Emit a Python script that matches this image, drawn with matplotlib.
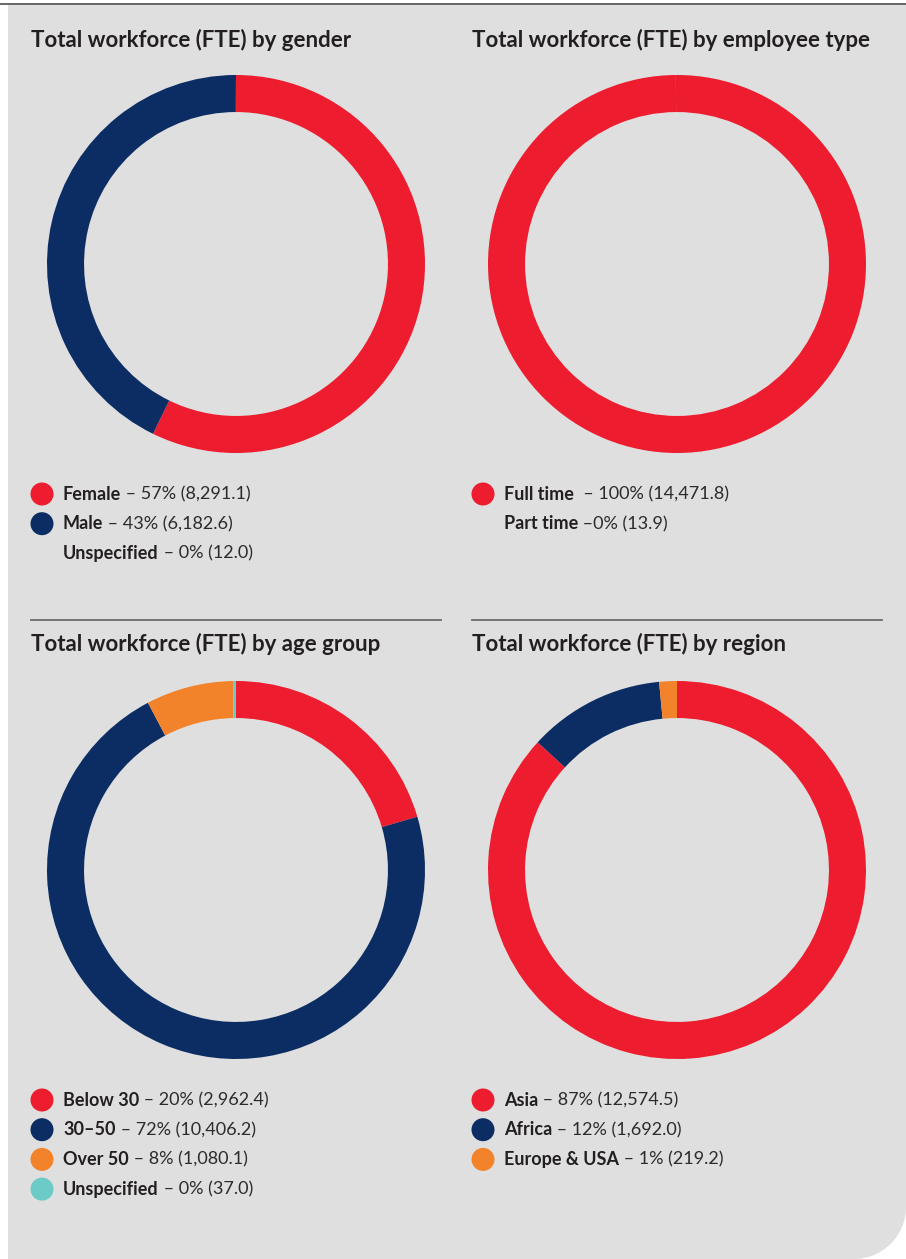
import matplotlib
matplotlib.use('Agg')
import matplotlib.pyplot as plt
from matplotlib.patches import Rectangle, Circle

plt.rcParams['font.family'] = ['Lato', 'DejaVu Sans']

W, H = 906, 1259
bg = '#dfdfdf'
red = '#ed1c2e'
navy = '#0c2d63'
orange = '#f3832a'
teal = '#6ccbc7'
ink = '#231f20'

# data
gender_labels = ['Female', 'Male', 'Unspecified']
gender_values = [8291.1, 6182.6, 12.0]
gender_pct = ['57%', '43%', '0%']
gender_colors = [red, navy, navy]

type_labels = ['Full time', 'Part time']
type_values = [14471.8, 13.9]
type_pct = ['100%', '0%']
type_colors = [red, red]

age_labels = ['Below 30', '30–50', 'Over 50', 'Unspecified']
age_values = [2962.4, 10406.2, 1080.1, 37.0]
age_pct = ['20%', '72%', '8%', '0%']
age_colors = [red, navy, orange, teal]

region_labels = ['Asia', 'Africa', 'Europe & USA']
region_values = [12574.5, 1692.0, 219.2]
region_pct = ['87%', '12%', '1%']
region_colors = [red, navy, orange]

fig = plt.figure(figsize=(W / 100, H / 100), dpi=100)
bgax = fig.add_axes([0, 0, 1, 1])
bgax.set_xlim(0, W)
bgax.set_ylim(H, 0)
bgax.axis('off')

# panel with rounded bottom-right corner
r = 52
bgax.add_patch(Rectangle((8, 5), W - 8, H - 5, color=bg, lw=0))
bgax.add_patch(Rectangle((W - r, H - r), r, r, color='white', lw=0))
bgax.add_patch(Circle((W - r, H - r), r, color=bg, lw=0))
bgax.plot([0, W], [4, 4], color='#4d4d4d', lw=1.2)

# separators
bgax.plot([31, 441], [620, 620], color='#6b6b6b', lw=1.3)
bgax.plot([472, 882], [620, 620], color='#6b6b6b', lw=1.3)


def donut(cx, cy, values, colors, rad=189):
    ax = fig.add_axes([(cx - rad) / W, 1 - (cy + rad) / H, 2 * rad / W, 2 * rad / H])
    ax.pie(values, colors=colors, startangle=90, counterclock=False,
           radius=1, wedgeprops=dict(width=0.196, linewidth=0))
    ax.set_xlim(-1, 1)
    ax.set_ylim(-1, 1)
    ax.axis('off')


def legend(x, y, labels, pct, values, colors, dots, gap=' – '):
    for i, lab in enumerate(labels):
        yy = y + i * 29.7
        if dots[i]:
            bgax.add_patch(Circle((x, yy), 11.5, color=colors[i], lw=0))
        t = bgax.text(x + 21, yy, lab, fontsize=13, fontweight='bold', color=ink,
                      va='center', ha='left')
        g = gap[i] if isinstance(gap, list) else gap
        bgax.annotate(g + pct[i] + ' (' + format(values[i], ',.1f') + ')',
                      xy=(1, 0), xycoords=t, fontsize=13, color='#2b2b2b',
                      va='bottom', ha='left')


titles = ['Total workforce (FTE) by gender', 'Total workforce (FTE) by employee type',
          'Total workforce (FTE) by age group', 'Total workforce (FTE) by region']
tpos = [(31, 40), (472, 40), (31, 644), (472, 644)]
for s, (tx, ty) in zip(titles, tpos):
    bgax.text(tx, ty, s, fontsize=16, fontweight='bold', color=ink, va='center', ha='left')

donut(236, 264, gender_values, gender_colors)
donut(677, 264, type_values, type_colors)
donut(236, 870, age_values, age_colors)
donut(677, 870, region_values, region_colors)

legend(42, 494, gender_labels, gender_pct, gender_values, gender_colors, [True, True, False])
legend(483, 494, type_labels, type_pct, type_values, type_colors, [True, False],
       gap=['  – ', ' –'])
legend(42, 1100, age_labels, age_pct, age_values, age_colors, [True] * 4)
legend(483, 1100, region_labels, region_pct, region_values, region_colors, [True] * 3)

fig.savefig('out.png', dpi=100, facecolor='white')
